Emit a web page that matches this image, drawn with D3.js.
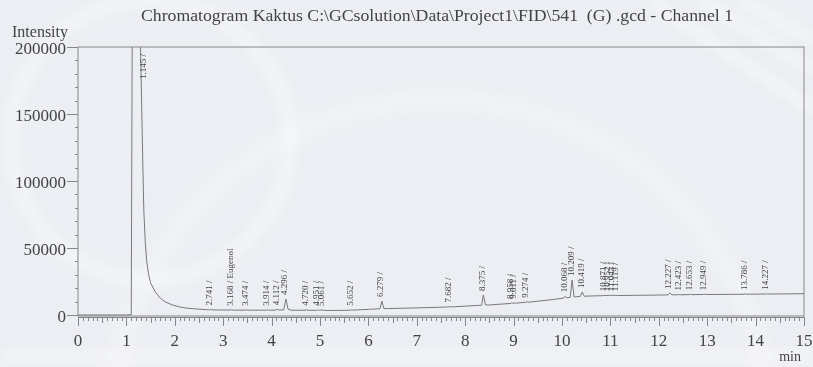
<!DOCTYPE html>
<html>
<head>
<meta charset="utf-8">
<script src="https://cdn.jsdelivr.net/npm/d3@7"></script>
<style>
  html, body { margin: 0; padding: 0; background: #eceef3; }
  svg { display: block; }
</style>
</head>
<body>
<svg id="chart" width="813" height="367"></svg>
<script>
// ---- data ----
const titleText = "Chromatogram Kaktus C:\\GCsolution\\Data\\Project1\\FID\\541  (G) .gcd - Channel 1";

// detector trace: retention time (min) and intensity
const traceTime = [
  0.00, 1.00, 1.10, 1.125, 1.29, 1.335, 1.36, 1.39, 1.42, 1.46, 1.50, 1.60, 1.70, 1.80, 1.95, 2.10, 2.25, 2.45, 2.65,
  2.72, 2.741, 2.77, 3.00, 3.14, 3.168, 3.20, 3.45, 3.474, 3.50, 3.89, 3.914, 3.94,
  4.08, 4.112, 4.15, 4.25, 4.296, 4.34, 4.40, 4.69, 4.720, 4.75,
  4.92, 4.951, 4.99, 5.061, 5.10, 5.50, 5.63, 5.652, 5.68,
  6.00, 6.24, 6.279, 6.32, 6.40, 7.00, 7.66, 7.682, 7.71,
  8.00, 8.34, 8.375, 8.42, 8.50, 8.93, 8.958, 8.985, 9.011, 9.04,
  9.25, 9.274, 9.30, 9.80, 10.00, 10.04, 10.068, 10.10, 10.17, 10.209, 10.25, 10.30, 10.38, 10.419, 10.46, 10.60,
  10.84, 10.871, 10.91, 10.952, 11.00, 11.043, 11.08, 11.119, 11.16,
  11.50, 12.00, 12.19, 12.227, 12.27, 12.40, 12.423, 12.45, 12.63, 12.653, 12.68, 12.92, 12.949, 12.98,
  13.50, 13.76, 13.786, 13.81, 14.20, 14.227, 14.25, 14.50, 15.00
];
const traceIntensity = [
  0, 0, 300, 260000, 205000, 120000, 78000, 54000, 40000, 30000, 24000, 17000, 12600, 9800, 7500, 6000, 5100, 4500, 4000,
  3850, 4150, 3800, 3700, 3650, 3950, 3650, 3600, 3850, 3600, 3600, 3900, 3600,
  3600, 4300, 3700, 3800, 11900, 4300, 3600, 3500, 3950, 3500,
  3450, 3850, 3500, 3800, 3400, 3450, 3600, 3850, 3650,
  4200, 4700, 10400, 4800, 4800, 5300, 6000, 6300, 6000,
  6600, 7300, 14900, 7500, 7500, 8600, 9000, 8700, 9100, 8800,
  9500, 9900, 9500, 11500, 12400, 12700, 14000, 12900, 13200, 26100, 13500, 13600, 13900, 17200, 14000, 14200,
  14400, 14700, 14450, 14750, 14500, 14800, 14500, 14750, 14500,
  14700, 14900, 15000, 16500, 15050, 15100, 15350, 15100, 15200, 15450, 15200, 15300, 15550, 15300,
  15400, 15500, 15750, 15500, 15650, 15900, 15650, 15700, 15900
];

// integrated peaks: retention time and compound name
const peakTimes = [
  1.145, 2.741, 3.168, 3.474, 3.914, 4.112, 4.296, 4.720, 4.951, 5.061, 5.652, 6.279, 7.682, 8.375,
  8.958, 9.011, 9.274, 10.068, 10.209, 10.419, 10.871, 10.952, 11.043, 11.119,
  12.227, 12.423, 12.653, 12.949, 13.786, 14.227
];
const peakNames = peakTimes.map(t => t === 3.168 ? "Eugenol" : "");

const xTicks = [0, 1, 2, 3, 4, 5, 6, 7, 8, 9, 10, 11, 12, 13, 14, 15];
const yTicks = [0, 50000, 100000, 150000, 200000];

// ---- layout ----
const svg = d3.select("#chart");
const W = 813, H = 367;
const plotL = 78, plotR = 804, plotT = 47, plotB = 315;
const ink = "#424347", lineCol = "#86878c";
const serif = "'Liberation Serif', 'Times New Roman', serif";

const x = d3.scaleLinear().domain([0, 15]).range([plotL, plotR]);
const y = d3.scaleLinear().domain([0, 200000]).range([plotB, plotT]);

// soft watermark behind the plot
const defs = svg.append("defs");
defs.append("filter").attr("id", "soft").append("feGaussianBlur").attr("stdDeviation", 6);
defs.append("clipPath").attr("id", "plotClip")
  .append("rect").attr("x", plotL).attr("y", plotT).attr("width", plotR - plotL).attr("height", plotB - plotT + 1);

const wm = svg.append("g").attr("filter", "url(#soft)").attr("fill", "none").attr("stroke", "#ffffff");
wm.append("circle").attr("cx", 150).attr("cy", 140).attr("r", 140).attr("stroke-width", 14).attr("opacity", 0.4);
wm.append("circle").attr("cx", 440).attr("cy", 430).attr("r", 330).attr("stroke-width", 22).attr("opacity", 0.25);
[[700, 0, 813, 70], [740, 0, 813, 40], [650, 0, 813, 110]].forEach(s =>
  wm.append("line").attr("x1", s[0]).attr("y1", s[1]).attr("x2", s[2]).attr("y2", s[3])
    .attr("stroke-width", 10).attr("opacity", 0.5));
svg.append("rect").attr("x", 0).attr("y", 348).attr("width", W).attr("height", 19)
  .attr("fill", "#ffffff").attr("opacity", 0.3).attr("filter", "url(#soft)");

// title
svg.append("text").attr("x", 437).attr("y", 21).attr("text-anchor", "middle")
  .attr("xml:space", "preserve").style("white-space", "pre")
  .attr("textLength", 592).attr("lengthAdjust", "spacingAndGlyphs")
  .attr("font-family", serif).attr("font-size", 16.5).attr("fill", ink)
  .text(titleText);

// plot frame
svg.append("rect").attr("x", plotL).attr("y", plotT).attr("width", plotR - plotL).attr("height", plotB + 1 - plotT)
  .attr("fill", "none").attr("stroke", lineCol).attr("stroke-width", 1);

// y axis: minor ticks every 10000, major with labels every 50000
const yMinor = d3.range(0, 200001, 10000);
svg.append("g").selectAll("line").data(yMinor).join("line")
  .attr("x1", d => yTicks.includes(d) ? plotL - 11 : plotL - 3).attr("x2", plotL)
  .attr("y1", d => Math.round(y(d)) + 0.5).attr("y2", d => Math.round(y(d)) + 0.5)
  .attr("stroke", lineCol).attr("stroke-width", 1);
svg.append("g").selectAll("text").data(yTicks).join("text")
  .attr("x", 66).attr("y", d => y(d) + 1).attr("dy", "0.34em").attr("text-anchor", "end")
  .attr("font-family", serif).attr("font-size", 17).attr("fill", ink)
  .text(d => d);
svg.append("text").attr("x", 12).attr("y", 37).attr("font-family", serif).attr("font-size", 16)
  .attr("fill", ink).text("Intensity");

// x axis ruler below the frame
const axisY = plotB + 2;
const xMinor = d3.range(0, 151).map(i => i / 10);
svg.append("line").attr("x1", plotL).attr("x2", plotR).attr("y1", axisY + 0.5).attr("y2", axisY + 0.5)
  .attr("stroke", lineCol);
svg.append("g").selectAll("line").data(xMinor).join("line")
  .attr("x1", d => Math.round(x(d)) + 0.5).attr("x2", d => Math.round(x(d)) + 0.5)
  .attr("y1", axisY)
  .attr("y2", (d, i) => axisY + (i % 10 === 0 ? 9 : i % 5 === 0 ? 6 : 4))
  .attr("stroke", lineCol).attr("stroke-width", 1);
svg.append("g").selectAll("text").data(xTicks).join("text")
  .attr("x", d => x(d)).attr("y", 346).attr("text-anchor", "middle")
  .attr("font-family", serif).attr("font-size", 17).attr("fill", ink)
  .text(d => d);
svg.append("text").attr("x", 801).attr("y", 361).attr("text-anchor", "end")
  .attr("font-family", serif).attr("font-size", 14).attr("fill", ink).text("min");

// chromatogram trace
const points = traceTime.map((t, i) => [t, traceIntensity[i]]);
svg.append("path").datum(points)
  .attr("clip-path", "url(#plotClip)")
  .attr("fill", "none").attr("stroke", "#77787d").attr("stroke-width", 1)
  .attr("d", d3.line().x(d => x(d[0])).y(d => y(d[1])));

// peak labels, rotated, just above each apex
const apexAt = t => {
  const i = traceTime.indexOf(t);
  return i >= 0 ? traceIntensity[i] : traceIntensity[d3.bisectLeft(traceTime, t)];
};
svg.append("g").selectAll("text").data(peakTimes).join("text")
  .attr("transform", (t, i) => {
    const h = apexAt(t);
    const clipped = h > y.domain()[1];
    const px = clipped ? x(t) + 13 : x(t) + 1.5;
    const py = clipped ? plotT + 32 : y(h) - 4;
    return `translate(${px},${py}) rotate(-90)`;
  })
  .attr("font-family", serif).attr("font-size", 9).attr("fill", ink)
  .text((t, i) => t.toFixed(3) + " /" + (peakNames[i] ? " " + peakNames[i] : ""));
</script>
</body>
</html>
